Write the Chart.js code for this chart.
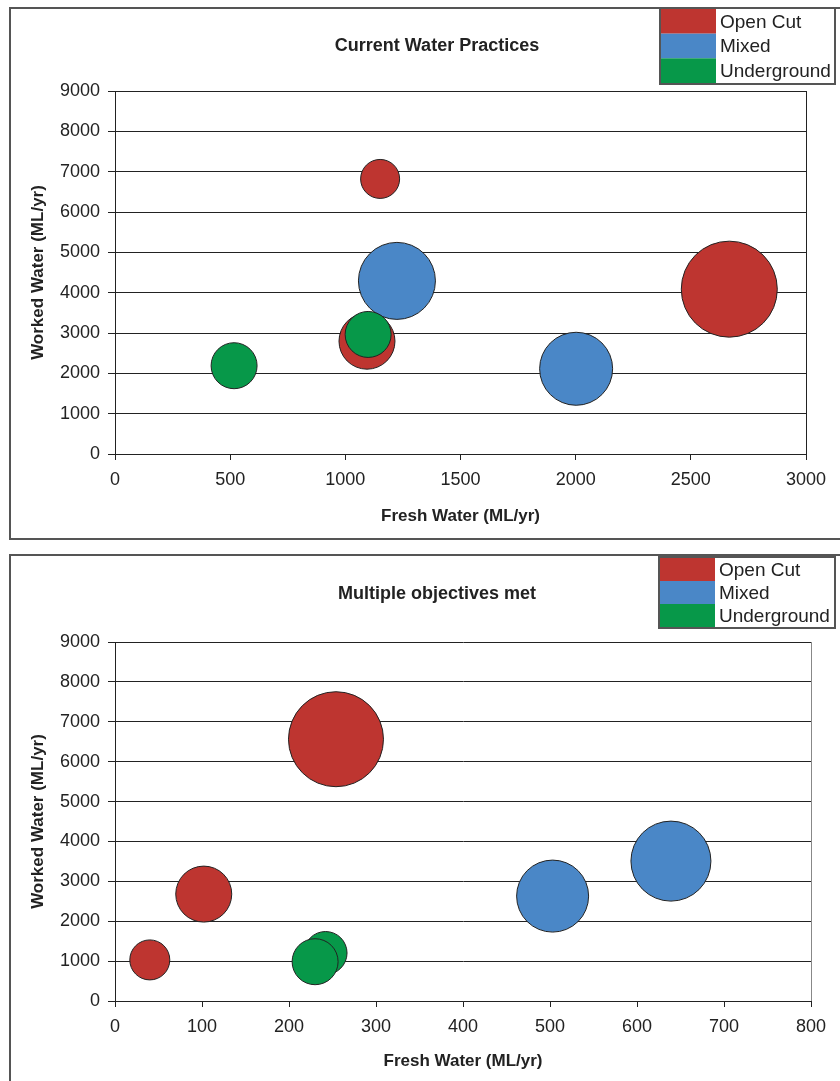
<!DOCTYPE html>
<html>
<head>
<meta charset="utf-8">
<script src="https://cdn.jsdelivr.net/npm/chart.js@4"></script>
<style>
  html, body { margin: 0; padding: 0; background: #fff; }
  body { position: relative; width: 840px; height: 1081px; overflow: hidden; }
  .box { position: absolute; left: 9px; width: 900px; border: 2px solid #555; box-sizing: border-box; }
  #box1 { top: 7px; height: 533px; }
  #box2 { top: 554px; height: 600px; }
  canvas { position: absolute; left: 0; }
  #chart1 { top: 0; }
  #chart2 { top: 546px; }
</style>
</head>
<body>
<div class="box" id="box1"></div>
<div class="box" id="box2"></div>
<canvas id="chart1" width="840" height="546"></canvas>
<canvas id="chart2" width="840" height="535"></canvas>
<script>
// series names + colours
const seriesNames = ['Open Cut', 'Mixed', 'Underground'];
const seriesColors = ['#BE3530', '#4A87C7', '#079849'];

// Current Water Practices  (x = fresh, y = worked, r = bubble size in px)
const currentOpenCut = [{x: 1151, y: 6820, r: 19.5}, {x: 2667, y: 4087, r: 48}, {x: 1094, y: 2797, r: 28}];
const currentMixed = [{x: 1224, y: 4292, r: 38.5}, {x: 2002, y: 2113, r: 36.5}];
const currentUnderground = [{x: 517, y: 2189, r: 23}, {x: 1099, y: 2964, r: 23}];

// Multiple objectives met
const multiOpenCut = [{x: 40, y: 1030, r: 20}, {x: 102, y: 2680, r: 28}, {x: 254, y: 6563, r: 47.5}];
const multiMixed = [{x: 503, y: 2630, r: 36}, {x: 639, y: 3507, r: 40}];
const multiUnderground = [{x: 242, y: 1203, r: 21.5}, {x: 230, y: 985, r: 23}];

// axis ranges
const yTicks = [0, 1000, 2000, 3000, 4000, 5000, 6000, 7000, 8000, 9000];
const xTicksCurrent = [0, 500, 1000, 1500, 2000, 2500, 3000];
const xTicksMulti = [0, 100, 200, 300, 400, 500, 600, 700, 800];

const FONT = "'Liberation Sans', Arial, sans-serif";
const INK = '#222';

// title + legend box + right border, drawn on the canvas
const decorPlugin = {
  id: 'decor',
  afterDraw(chart, args, opts) {
    const ctx = chart.ctx;
    const area = chart.chartArea;
    ctx.save();
    // right border of plot
    ctx.strokeStyle = opts.rightColor;
    ctx.lineWidth = 1;
    ctx.beginPath();
    ctx.moveTo(Math.round(area.right) + 0.5, area.top);
    ctx.lineTo(Math.round(area.right) + 0.5, area.bottom);
    ctx.stroke();

    // chart title
    ctx.fillStyle = INK;
    ctx.font = 'bold 18px ' + FONT;
    ctx.textAlign = 'center';
    ctx.textBaseline = 'middle';
    ctx.fillText(opts.title, opts.titleX, opts.titleY);

    // legend
    const lg = opts.legend;
    const rowH = (lg.bottom - lg.top) / chart.data.datasets.length;
    ctx.font = '19px ' + FONT;
    ctx.textAlign = 'left';
    chart.data.datasets.forEach((ds, i) => {
      ctx.fillStyle = ds.backgroundColor;
      ctx.fillRect(lg.left, lg.top + i * rowH, lg.swatch, rowH);
      ctx.fillStyle = INK;
      ctx.fillText(ds.label, lg.left + lg.swatch + 4, lg.top + i * rowH + rowH / 2 + 1);
    });
    ctx.strokeStyle = '#555';
    ctx.lineWidth = 2;
    ctx.strokeRect(lg.left - 1, lg.top - 1, lg.right - lg.left + 2, lg.bottom - lg.top + 2);
    ctx.restore();
  }
};

function makeChart(id, cfg) {
  const datasets = cfg.series.map((data, i) => ({
    label: seriesNames[i],
    data: data,
    backgroundColor: seriesColors[i],
    borderColor: INK,
    borderWidth: 1,
    hoverBorderWidth: 1,
    order: cfg.series.length - i
  }));

  return new Chart(document.getElementById(id), {
    type: 'bubble',
    data: { datasets },
    plugins: [decorPlugin],
    options: {
      responsive: false,
      animation: false,
      events: [],
      layout: { padding: cfg.padding, autoPadding: false },
      plugins: {
        legend: { display: false },
        tooltip: { enabled: false },
        decor: cfg.decor
      },
      scales: {
        x: {
          type: 'linear',
          min: cfg.xTicks[0],
          max: cfg.xTicks[cfg.xTicks.length - 1],
          afterBuildTicks: (s) => { s.ticks = cfg.xTicks.map(v => ({ value: v })); },
          afterFit: (s) => { s.height = 80; s.paddingLeft = 0; s.paddingRight = 0; },
          grid: { drawOnChartArea: false, drawTicks: true, tickLength: 6, color: INK, lineWidth: 1 },
          border: { display: true, color: INK, width: 1 },
          ticks: {
            color: INK, padding: 9, maxRotation: 0, autoSkip: false,
            font: { family: FONT, size: 18, lineHeight: 1.2 },
            callback: (v) => String(v)
          },
          title: {
            display: true, text: 'Fresh Water (ML/yr)', color: INK,
            font: { family: FONT, size: 17, weight: 'bold', lineHeight: 1.2 },
            padding: { top: 0, bottom: cfg.xTitlePad }
          }
        },
        y: {
          type: 'linear',
          min: yTicks[0],
          max: yTicks[yTicks.length - 1],
          afterBuildTicks: (s) => { s.ticks = yTicks.map(v => ({ value: v })); },
          afterFit: (s) => { s.width = 115; s.paddingTop = 0; s.paddingBottom = 0; },
          grid: { drawOnChartArea: true, drawTicks: true, tickLength: 7, color: INK, lineWidth: 1 },
          border: { display: true, color: INK, width: 1 },
          ticks: {
            color: INK, padding: 8, autoSkip: false,
            font: { family: FONT, size: 18, lineHeight: 1.2 },
            callback: (v) => String(v)
          },
          title: {
            display: true, text: 'Worked Water (ML/yr)', color: INK,
            font: { family: FONT, size: 17, weight: 'bold', lineHeight: 1.2 },
            padding: { top: 28, bottom: 0 }
          }
        }
      }
    }
  });
}

makeChart('chart1', {
  series: [currentOpenCut, currentMixed, currentUnderground],
  xTicks: xTicksCurrent,
  padding: { left: 0, top: 91, right: 34, bottom: 12 },
  xTitlePad: 7,
  decor: {
    title: 'Current Water Practices', titleX: 437, titleY: 46, rightColor: INK,
    legend: { left: 661, right: 834, top: 9, bottom: 83, swatch: 55 }
  }
});

makeChart('chart2', {
  series: [multiOpenCut, multiMixed, multiUnderground],
  xTicks: xTicksMulti,
  padding: { left: 0, top: 96, right: 29, bottom: 0 },
  xTitlePad: 9,
  decor: {
    title: 'Multiple objectives met', titleX: 437, titleY: 48, rightColor: '#888',
    legend: { left: 660, right: 834, top: 12, bottom: 81, swatch: 55 }
  }
});
</script>
</body>
</html>
